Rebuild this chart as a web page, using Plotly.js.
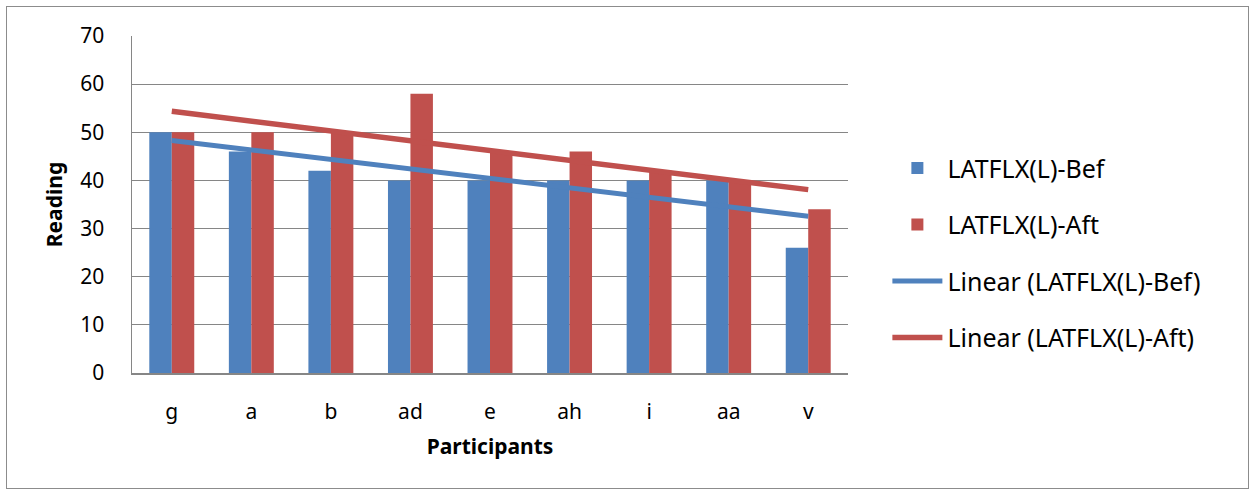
<!DOCTYPE html>
<html>
<head>
<meta charset="utf-8">
<script src="https://cdn.plot.ly/plotly-3.0.1.min.js"></script>
<style>
html,body{margin:0;padding:0;background:#fff;}
#chart{position:absolute;left:0;top:0;width:1255px;height:491px;}
#frame{position:absolute;left:6px;top:6px;width:1241px;height:481px;border:1px solid #8c8c8c;pointer-events:none;}
</style>
</head>
<body>
<div id="chart"></div>
<div id="frame"></div>
<script>
const participants = ["g","a","b","ad","e","ah","i","aa","v"];
const befValues = [50,46,42,40,40,40,40,40,26];
const aftValues = [50,50,50,58,46,46,42,40,34];
const yTicks = [0,10,20,30,40,50,60,70];

function linearFit(vals){
  const n = vals.length;
  const xs = vals.map((_,i)=>i+1);
  const mx = xs.reduce((a,b)=>a+b,0)/n;
  const my = vals.reduce((a,b)=>a+b,0)/n;
  let sxy=0, sxx=0;
  for(let i=0;i<n;i++){sxy+=(xs[i]-mx)*(vals[i]-my); sxx+=(xs[i]-mx)**2;}
  const m = sxy/sxx, b = my - m*mx;
  return xs.map(x=>m*x+b);
}

const blue = "#4F81BD", red = "#C0504D";
const font = "Noto Sans, Open Sans, sans-serif";

const traces = [
  {type:"bar", name:"LATFLX(L)-Bef", x:participants, y:befValues, marker:{color:blue}, legendgroup:"a"},
  {type:"bar", name:"LATFLX(L)-Aft", x:participants, y:aftValues, marker:{color:red}, legendgroup:"b"},
  {type:"scatter", mode:"lines", name:"Linear (LATFLX(L)-Bef)", x:participants, y:linearFit(befValues),
   line:{color:blue, width:5}, legendgroup:"c"},
  {type:"scatter", mode:"lines", name:"Linear (LATFLX(L)-Aft)", x:participants, y:linearFit(aftValues),
   line:{color:red, width:5.5}, legendgroup:"d"}
];

const layout = {
  width:1255, height:491,
  margin:{l:132, r:407, t:36, b:118},
  paper_bgcolor:"#fff", plot_bgcolor:"#fff",
  font:{family:font, color:"#000", size:21},
  barmode:"group", bargap:0.435, bargroupgap:0,
  showlegend:true,
  legend:{x:1.055, xanchor:"left", y:0.676, yanchor:"top", font:{size:25, family:font},
          traceorder:"grouped", tracegroupgap:21, itemwidth:50, bgcolor:"rgba(0,0,0,0)"},
  xaxis:{
    showgrid:false, showline:true, linecolor:"#868686", linewidth:1.5,
    ticks:"", ticklabelstandoff:19, tickfont:{size:21},
    title:{text:"Participants", font:{size:21, family:font, weight:"bold"}, standoff:15}
  },
  yaxis:{
    range:[0,70], tickvals:yTicks, showgrid:true, gridcolor:"#868686", gridwidth:1,
    showline:true, linecolor:"#868686", linewidth:1.5, zeroline:false,
    ticks:"", ticklabelstandoff:22, tickfont:{size:21},
    title:{text:"Reading", font:{size:21, family:font, weight:"bold"}, standoff:12}
  }
};

Plotly.newPlot("chart", traces, layout, {displayModeBar:false, staticPlot:true});
</script>
</body>
</html>
